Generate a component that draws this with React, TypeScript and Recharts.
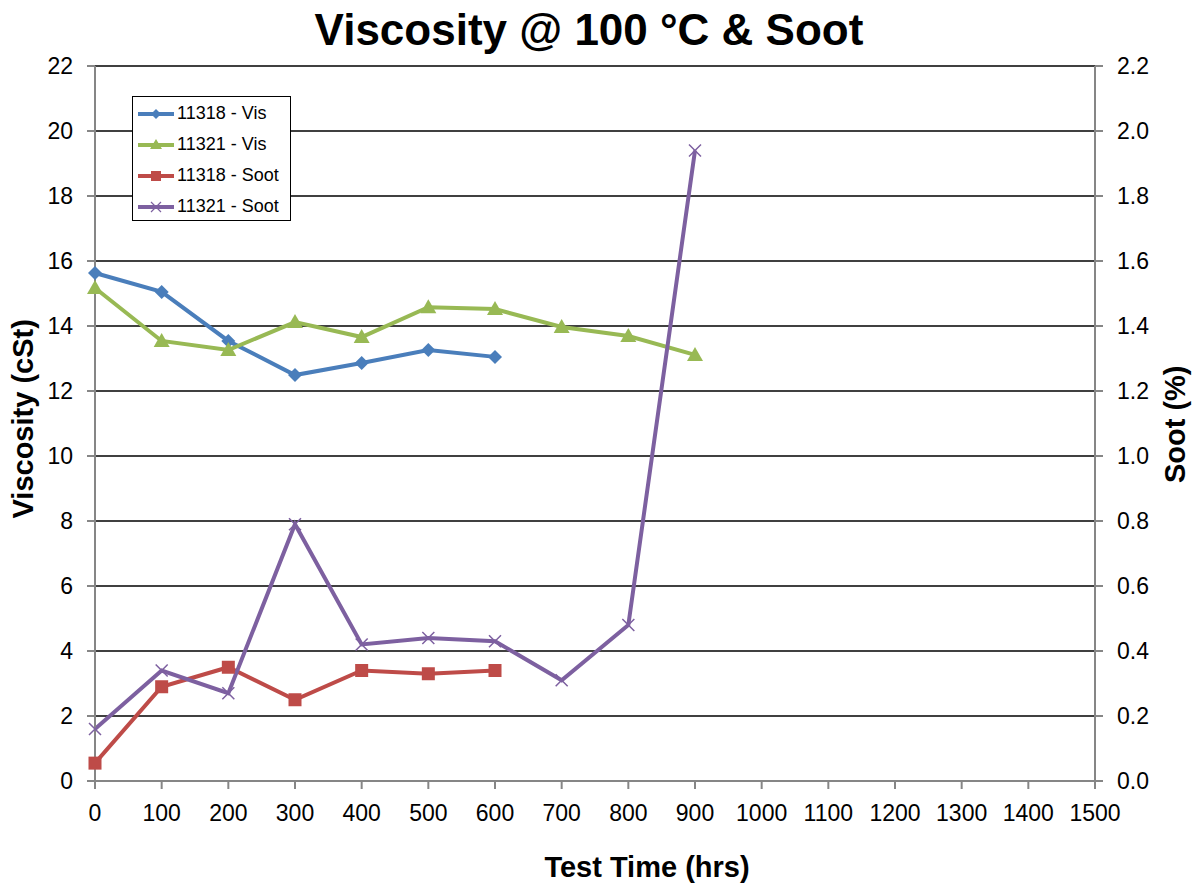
import React from 'react';
import { LineChart, Line, XAxis, YAxis, CartesianGrid, Legend } from 'recharts';

const hours = [0, 100, 200, 300, 400, 500, 600, 700, 800, 900];
const vis11318 = [15.63, 15.05, 13.54, 12.49, 12.86, 13.26, 13.05];
const vis11321 = [15.17, 13.54, 13.26, 14.12, 13.66, 14.58, 14.52, 13.97, 13.69, 13.11];
const soot11318 = [0.055, 0.29, 0.35, 0.25, 0.34, 0.33, 0.34];
const soot11321 = [0.16, 0.34, 0.27, 0.79, 0.42, 0.44, 0.43, 0.31, 0.48, 1.94];
const xTicks = [0, 100, 200, 300, 400, 500, 600, 700, 800, 900, 1000, 1100, 1200, 1300, 1400, 1500];
const visTicks = [0, 2, 4, 6, 8, 10, 12, 14, 16, 18, 20, 22];
const sootTicks = [0, 0.2, 0.4, 0.6, 0.8, 1.0, 1.2, 1.4, 1.6, 1.8, 2.0, 2.2];

const data = hours.map((h, i) => ({
  h,
  v1: vis11318[i],
  v2: vis11321[i],
  s1: soot11318[i],
  s2: soot11321[i],
}));

const C_BLUE = '#4A7EBB';
const C_GREEN = '#98B954';
const C_RED = '#BE4B48';
const C_PURPLE = '#7D60A0';

const FONT = '"Liberation Sans", Arial, sans-serif';

const Diamond = (p: any) => {
  const { cx, cy, key } = p;
  if (cx == null || cy == null || p.value == null) return <g key={key} />;
  const r = 7;
  return <path key={key} d={`M${cx},${cy - r}L${cx + r},${cy}L${cx},${cy + r}L${cx - r},${cy}Z`} fill={C_BLUE} />;
};
const Triangle = (p: any) => {
  const { cx, cy, key } = p;
  if (cx == null || cy == null || p.value == null) return <g key={key} />;
  return <path key={key} d={`M${cx},${cy - 8}L${cx + 8},${cy + 6}L${cx - 8},${cy + 6}Z`} fill={C_GREEN} />;
};
const Square = (p: any) => {
  const { cx, cy, key } = p;
  if (cx == null || cy == null || p.value == null) return <g key={key} />;
  return <rect key={key} x={cx - 6.5} y={cy - 6.5} width={13} height={13} fill={C_RED} />;
};
const Cross = (p: any) => {
  const { cx, cy, key } = p;
  if (cx == null || cy == null || p.value == null) return <g key={key} />;
  const r = 6;
  return (
    <path key={key} d={`M${cx - r},${cy - r}L${cx + r},${cy + r}M${cx - r},${cy + r}L${cx + r},${cy - r}`} stroke={C_PURPLE} strokeWidth={1.5} fill="none" />
  );
};

const legendItems = [
  { label: '11318 - Vis', color: C_BLUE, shape: 'diamond' },
  { label: '11321 - Vis', color: C_GREEN, shape: 'triangle' },
  { label: '11318 - Soot', color: C_RED, shape: 'square' },
  { label: '11321 - Soot', color: C_PURPLE, shape: 'cross' },
];

const LegendIcon = ({ color, shape }: { color: string; shape: string }) => {
  const cx = 20, cy = 8;
  let m: React.ReactNode = null;
  if (shape === 'diamond') m = <path d={`M${cx},${cy - 5}L${cx + 5},${cy}L${cx},${cy + 5}L${cx - 5},${cy}Z`} fill={color} />;
  if (shape === 'triangle') m = <path d={`M${cx},${cy - 6}L${cx + 6},${cy + 4}L${cx - 6},${cy + 4}Z`} fill={color} />;
  if (shape === 'square') m = <rect x={cx - 5} y={cy - 5} width={10} height={10} fill={color} />;
  if (shape === 'cross') m = <path d={`M${cx - 5},${cy - 5}L${cx + 5},${cy + 5}M${cx - 5},${cy + 5}L${cx + 5},${cy - 5}`} stroke={color} strokeWidth={1.2} />;
  return (
    <svg width={40} height={16} style={{ display: 'block' }}>
      <line x1={2} y1={cy} x2={38} y2={cy} stroke={color} strokeWidth={4} />
      {m}
    </svg>
  );
};

const renderLegend = () => (
  <div
    style={{
      border: '1px solid #000',
      background: '#fff',
      width: 159,
      height: 125,
      boxSizing: 'border-box',
      padding: '1px 0 0 3px',
      fontFamily: FONT,
      fontSize: 18,
      color: '#000',
      whiteSpace: 'nowrap',
    }}
  >
    {legendItems.map((it) => (
      <div key={it.label} style={{ display: 'flex', alignItems: 'center', height: 31 }}>
        <LegendIcon color={it.color} shape={it.shape} />
        <span style={{ marginLeft: 1 }}>{it.label}</span>
      </div>
    ))}
  </div>
);

const tickStyle = { fontSize: 23, fill: '#000', fontFamily: FONT };
const labelStyle = { fontSize: 29, fontWeight: 'bold', fill: '#000', fontFamily: FONT };

export default function App() {
  return (
    <div style={{ position: 'relative', width: 1195, height: 876, background: '#fff' }}>
      <div
        style={{
          position: 'absolute',
          left: 81,
          width: 1000,
          top: -3,
          textAlign: 'center',
          fontFamily: FONT,
          fontWeight: 'bold',
          fontSize: 44,
          color: '#000',
          zIndex: 2,
          whiteSpace: 'nowrap',
        }}
      >
        Viscosity @ 100 °C &amp; Soot
      </div>
      <LineChart
        width={1195}
        height={876}
        data={data}
        margin={{ top: 58, right: 48, bottom: 73, left: 27 }}
      >
        <CartesianGrid vertical={false} stroke="#000" strokeWidth={1.3} yAxisId="vis" />
        <XAxis
          dataKey="h"
          type="number"
          domain={[0, 1500]}
          ticks={xTicks}
          interval={0}
          height={30}
          tick={tickStyle}
          tickSize={8}
          tickMargin={16}
          stroke="#868686"
          strokeWidth={2}
          label={{ value: 'Test Time (hrs)', position: 'insideBottom', offset: -66, dx: 52, style: labelStyle }}
        />
        <YAxis
          yAxisId="vis"
          domain={[0, 22]}
          ticks={visTicks}
          interval={0}
          width={60}
          tick={tickStyle}
          tickSize={8}
          tickMargin={14}
          stroke="#868686"
          strokeWidth={2}
          label={{ value: 'Viscosity (cSt)', angle: -90, position: 'insideLeft', offset: -12, dy: 95, style: labelStyle }}
        />
        <YAxis
          yAxisId="soot"
          orientation="right"
          domain={[0, 2.2]}
          ticks={sootTicks}
          interval={0}
          width={60}
          tick={tickStyle}
          tickSize={8}
          tickMargin={14}
          tickFormatter={(v: number) => v.toFixed(1)}
          stroke="#868686"
          strokeWidth={2}
          label={{ value: 'Soot (%)', angle: -90, position: 'insideRight', offset: -20, dy: -58, style: labelStyle }}
        />
        <Legend
          layout="vertical"
          verticalAlign="middle"
          align="center"
          wrapperStyle={{ left: 124, top: 88, width: 160, height: 125 }}
          content={renderLegend}
        />
        <Line yAxisId="vis" dataKey="v1" name="11318 - Vis" stroke={C_BLUE} strokeWidth={4} dot={Diamond} activeDot={false} isAnimationActive={false} />
        <Line yAxisId="vis" dataKey="v2" name="11321 - Vis" stroke={C_GREEN} strokeWidth={4} dot={Triangle} activeDot={false} isAnimationActive={false} />
        <Line yAxisId="soot" dataKey="s1" name="11318 - Soot" stroke={C_RED} strokeWidth={4} dot={Square} activeDot={false} isAnimationActive={false} />
        <Line yAxisId="soot" dataKey="s2" name="11321 - Soot" stroke={C_PURPLE} strokeWidth={4} dot={Cross} activeDot={false} isAnimationActive={false} />
      </LineChart>
    </div>
  );
}
